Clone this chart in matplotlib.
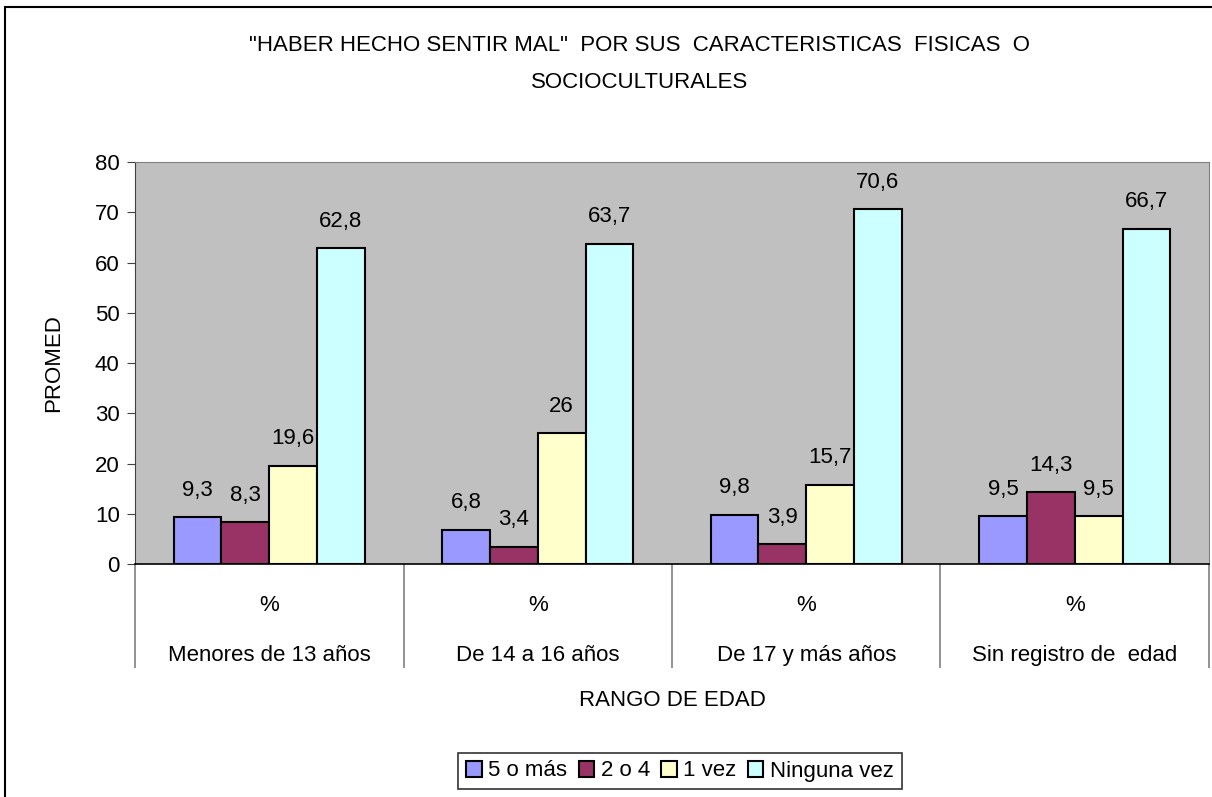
import matplotlib
matplotlib.use("Agg")
import matplotlib.pyplot as plt
from matplotlib.patches import Rectangle
from matplotlib.transforms import blended_transform_factory
import numpy as np

plt.rcParams["font.family"] = ["Liberation Sans", "DejaVu Sans"]

categories = ["Menores de 13 años", "De 14 a 16 años", "De 17 y más años", "Sin registro de  edad"]
series = ["5 o más", "2 o 4", "1 vez", "Ninguna vez"]
v_5omas = [9.3, 6.8, 9.8, 9.5]
v_2o4 = [8.3, 3.4, 3.9, 14.3]
v_1vez = [19.6, 26, 15.7, 9.5]
v_ninguna = [62.8, 63.7, 70.6, 66.7]
colors = ["#9999FF", "#993366", "#FFFFCC", "#CCFFFF"]

FS = 16

fig = plt.figure(figsize=(12.12, 7.97), dpi=100)
fig.patches.append(Rectangle((5 / 1212, -0.1), 1.2, 0.1 + (797 - 7) / 797,
                             transform=fig.transFigure, fill=False,
                             edgecolor="black", linewidth=1.5))
ax = fig.add_axes([0.1114, 0.2923, 0.8861, 0.5044])
ax.set_facecolor("#C0C0C0")

x = np.arange(len(categories))
w = 0.178
for i, (vals, name, col) in enumerate(zip([v_5omas, v_2o4, v_1vez, v_ninguna], series, colors)):
    bars = ax.bar(x + (i - 1.5) * w, vals, w, color=col, edgecolor="black",
                  linewidth=1.5, label=name)
    for b, v in zip(bars, vals):
        ax.annotate(f"{v:g}".replace(".", ","), (b.get_x() + b.get_width() / 2, v),
                    xytext=(0, 12), textcoords="offset points",
                    ha="center", va="bottom", fontsize=FS)

ax.set_xlim(-0.5, len(categories) - 0.5)
ax.set_ylim(0, 80)
ax.set_yticks(range(0, 81, 10))
ax.tick_params(axis="y", labelsize=FS, length=6, direction="out", color="#404040", pad=5)
ax.set_xticks(x, ["%"] * len(categories))
ax.tick_params(axis="x", which="major", length=0, labelsize=FS, pad=22)
ax.set_xticks(np.arange(len(categories) + 1) - 0.5, minor=True)
ax.tick_params(axis="x", which="minor", length=75, color="#808080", width=1.2)

tr = blended_transform_factory(ax.transData, ax.transAxes)
for xi, cat in zip(x, categories):
    ax.text(xi, -0.228, cat, transform=tr, ha="center", va="center", fontsize=FS)

for s in ("top", "right"):
    ax.spines[s].set_color("#808080")
ax.spines["left"].set_color("#404040")
ax.spines["bottom"].set_color("black")
ax.spines["bottom"].set_linewidth(1.2)

ax.set_ylabel("PROMED", fontsize=FS, labelpad=22)
fig.text(672 / 1212, 1 - 700 / 797, "RANGO DE EDAD", ha="center", va="center", fontsize=FS)
fig.text(640 / 1212, 1 - 64 / 797,
         "\"HABER HECHO SENTIR MAL\"  POR SUS  CARACTERISTICAS  FISICAS  O\nSOCIOCULTURALES",
         ha="center", va="center", fontsize=FS, linespacing=2.0)

leg = fig.legend(loc="center", bbox_to_anchor=(680 / 1212, 26 / 797), ncol=4,
                 fontsize=FS, frameon=True, fancybox=False, edgecolor="black",
                 handlelength=0.7, handleheight=0.7, handletextpad=0.3,
                 columnspacing=0.5, borderpad=0.35)
leg.get_frame().set_linewidth(1.2)

fig.savefig("out.png", dpi=100)
